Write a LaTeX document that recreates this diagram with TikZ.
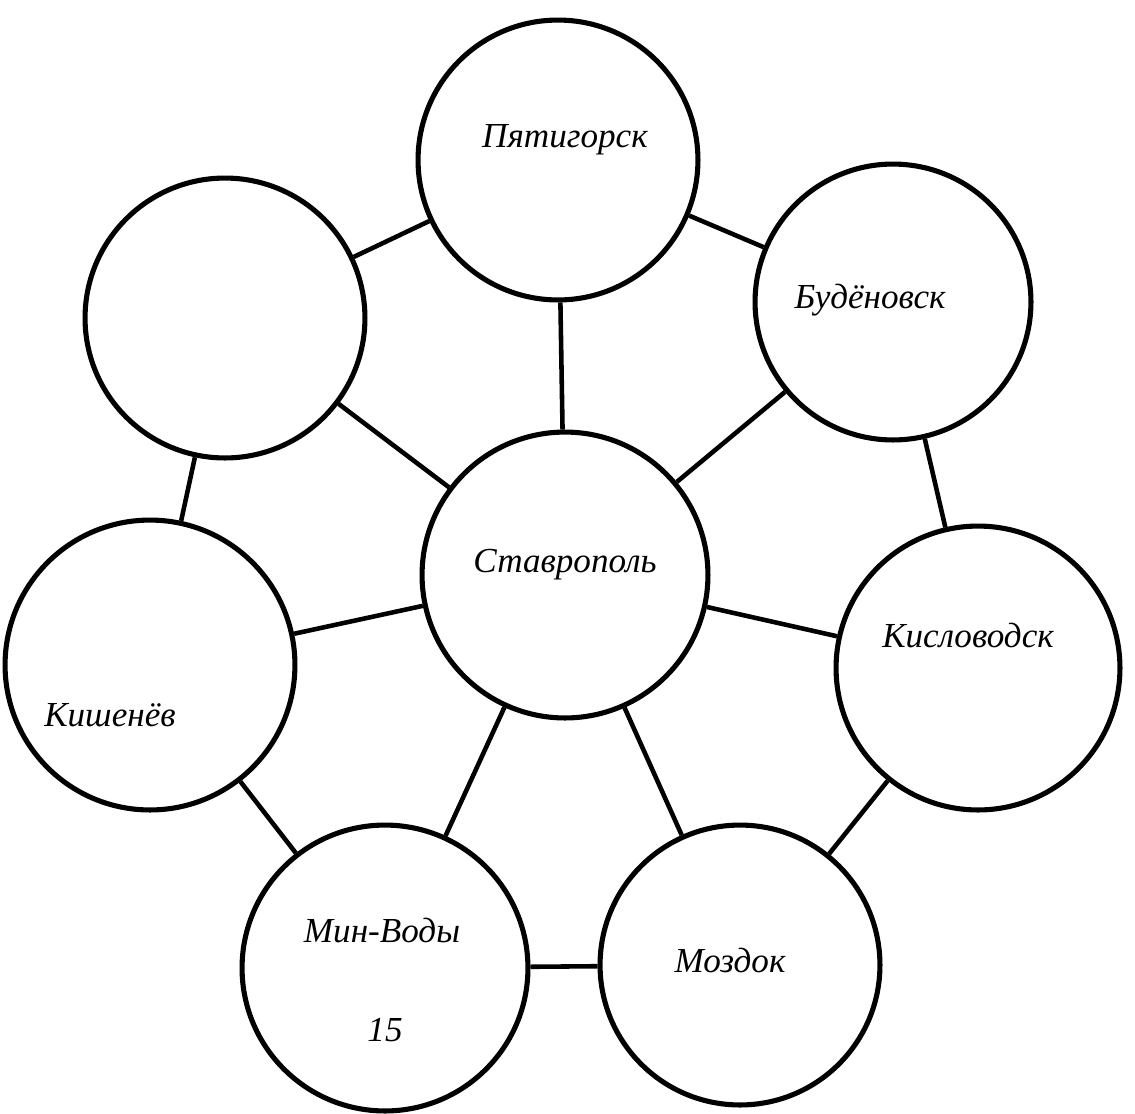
\documentclass[tikz,border=0pt]{standalone}
\usepackage{fontspec}
\setmainfont{Liberation Serif}
\begin{document}
\begin{tikzpicture}[x=0.02cm,y=-0.02cm,
  city/.style={circle,draw,line width=2.9pt,minimum size=#1*0.04cm,inner sep=0pt},
  link/.style={line width=2.6pt},
  lbl/.style={font=\itshape\fontsize{20pt}{22pt}\selectfont}]
\useasboundingbox (0,0) rectangle (1135,1113);
\node[city=140] (pya) at (558,160) {};
\node[city=140] (ul) at (225,318) {};
\node[city=138] (bud) at (893,302) {};
\node[city=143] (sta) at (565,575) {};
\node[city=145] (kish) at (150,665) {};
\node[city=142] (kis) at (978,668) {};
\node[city=143] (min) at (385,968) {};
\node[city=140] (moz) at (740,965) {};
\foreach \n in {pya,ul,bud,kish,kis,min,moz} \draw[link] (sta) -- (\n);
\draw[link] (pya) -- (bud);
\draw[link] (bud) -- (kis);
\draw[link] (kis) -- (moz);
\draw[link] (moz) -- (min);
\draw[link] (min) -- (kish);
\draw[link] (kish) -- (ul);
\draw[link] (ul) -- (pya);
\node[lbl] (t1) at (565,140) {Пятигорск};
\node[lbl] (t2) at (870,300) {Будёновск};
\node[lbl] (t3) at (565,565) {Ставрополь};
\node[lbl] (t4) at (968,635) {Кисловодск};
\node[lbl] (t5) at (110,715) {Кишенёв};
\node[lbl] (t6) at (382,930) {Мин-Воды};
\node[lbl] (t7) at (385,1030) {15};
\node[lbl] (t8) at (730,960) {Моздок};
\end{tikzpicture}
\end{document}
